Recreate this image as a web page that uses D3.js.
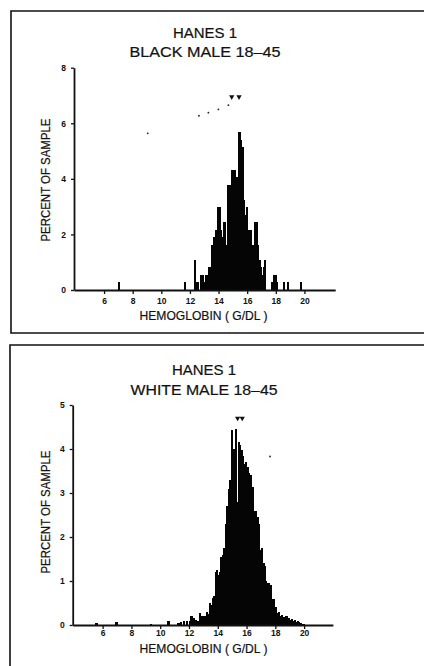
<!DOCTYPE html>
<html>
<head>
<meta charset="utf-8">
<script src="https://cdn.jsdelivr.net/npm/d3@7"></script>
<style>
  html, body { margin: 0; padding: 0; background: #fff; }
  svg { display: block; }
  text { font-family: "Liberation Sans", Arial, sans-serif; fill: #111; }
  .heading { stroke: #111; stroke-width: 0.2px; }
</style>
</head>
<body>
<svg id="chart" width="424" height="666"></svg>
<script>
// Hemoglobin distributions, 0.1 g/dL bins, percent of sample
const binWidth = 0.1;

const blackBins = [7.0, 11.6, 12.3, 12.4, 12.5, 12.7, 12.8, 12.9, 13.0, 13.1, 13.2, 13.3, 13.4,
  13.5, 13.6, 13.7, 13.8, 13.9, 14.0, 14.1, 14.2, 14.3, 14.4, 14.5, 14.6, 14.7, 14.8, 14.9,
  15.0, 15.1, 15.2, 15.3, 15.4, 15.5, 15.6, 15.7, 15.8, 15.9, 16.0, 16.1, 16.2, 16.3, 16.4,
  16.5, 16.6, 16.7, 16.8, 16.9, 17.0, 17.1, 17.2, 17.7, 17.8, 17.9, 18.0, 18.5, 18.8, 19.7];
const blackPct = [0.27, 0.27, 1.08, 0.27, 0.27, 0.54, 0.54, 0.27, 0.27, 0.54, 0.54, 0.81, 0.81,
  1.62, 1.89, 1.89, 2.16, 2.97, 2.97, 2.16, 1.89, 2.43, 2.43, 1.62, 3.78, 3.78, 3.24, 4.32,
  4.32, 4.32, 4.05, 4.05, 5.67, 5.40, 5.13, 3.24, 2.70, 2.97, 1.89, 2.16, 2.16, 1.62, 1.35,
  2.43, 2.43, 1.62, 1.08, 0.81, 0.54, 0.81, 1.08, 0.27, 0.54, 0.54, 0.27, 0.27, 0.27, 0.27];

const whiteBins = [5.5, 6.9, 9.3, 10.5, 11.2, 11.4, 11.6, 11.8, 12.0, 12.1, 12.2, 12.3, 12.4,
  12.5, 12.6, 12.7, 12.8, 12.9, 13.0, 13.1, 13.2, 13.3, 13.4, 13.5, 13.6, 13.7, 13.8, 13.9,
  14.0, 14.1, 14.2, 14.3, 14.4, 14.5, 14.6, 14.7, 14.8, 14.9, 15.0, 15.1, 15.2, 15.3, 15.4,
  15.5, 15.6, 15.7, 15.8, 15.9, 16.0, 16.1, 16.2, 16.3, 16.4, 16.5, 16.6, 16.7, 16.8, 16.9,
  17.0, 17.1, 17.2, 17.3, 17.4, 17.5, 17.6, 17.7, 17.8, 17.9, 18.0, 18.1, 18.2, 18.3, 18.4,
  18.5, 18.6, 18.7, 18.8, 18.9, 19.0, 19.1, 19.2, 19.3, 19.4, 19.5, 19.6, 19.7, 19.9];
const whitePct = [0.04, 0.06, 0.03, 0.10, 0.05, 0.06, 0.08, 0.10, 0.08, 0.20, 0.12, 0.15, 0.12,
  0.06, 0.10, 0.27, 0.20, 0.06, 0.20, 0.15, 0.30, 0.25, 0.50, 0.45, 0.62, 0.66, 1.20, 1.25,
  1.14, 1.20, 1.55, 1.60, 1.74, 2.30, 2.70, 3.10, 3.30, 4.43, 3.40, 4.00, 4.45, 2.80, 4.17,
  4.09, 3.98, 3.83, 3.67, 3.70, 3.60, 3.45, 3.40, 3.10, 3.14, 2.60, 2.58, 2.46, 2.30, 1.70,
  1.75, 1.40, 1.35, 1.00, 0.95, 0.96, 0.90, 0.57, 0.60, 0.42, 0.40, 0.27, 0.30, 0.20, 0.22,
  0.19, 0.15, 0.20, 0.12, 0.15, 0.11, 0.13, 0.08, 0.11, 0.06, 0.10, 0.06, 0.05, 0.03];

// Plotted markers above each histogram: [hemoglobin, percent]
const blackTriangles = [[14.92, 6.95], [15.43, 6.95]];
const blackDots = [[9.05, 5.64], [12.63, 6.27], [13.29, 6.38], [13.99, 6.5], [14.69, 6.65]];
const whiteTriangles = [[15.38, 4.7], [15.7, 4.7]];
const whiteDots = [[17.63, 3.83]];

const xTicks = [6, 8, 10, 12, 14, 16, 18, 20];
const blackYTicks = [0, 2, 4, 6, 8];
const whiteYTicks = [0, 1, 2, 3, 4, 5];

const titleTop = "HANES 1";
const blackTitle = "BLACK MALE 18–45";
const whiteTitle = "WHITE MALE 18–45";
const yTitle = "PERCENT OF SAMPLE";
const xTitle = "HEMOGLOBIN ( G/DL )";

const svg = d3.select("#chart");

// panel frames (open to the right/bottom edge of the page)
svg.append("path")
  .attr("d", "M424,11 H11 V333 H424")
  .attr("fill", "none").attr("stroke", "#111").attr("stroke-width", 1.6);
svg.append("path")
  .attr("d", "M424,345 H10 V666")
  .attr("fill", "none").attr("stroke", "#111").attr("stroke-width", 1.6);

function panel(cfg) {
  const g = svg.append("g");
  const x = d3.scaleLinear().domain(cfg.xDomain).range(cfg.xRange);
  const y = d3.scaleLinear().domain([0, cfg.yMax]).range(cfg.yRange);

  const data = cfg.bins.map((b, i) => ({ b, v: cfg.pct[i] }));

  // histogram bars (slightly widened so adjacent bins merge into a solid mass)
  g.append("g").attr("shape-rendering", "crispEdges")
    .selectAll("rect").data(data).join("rect")
    .attr("x", d => x(d.b) - 0.2)
    .attr("width", d => x(d.b + binWidth) - x(d.b) + 0.9)
    .attr("y", d => y(d.v))
    .attr("height", d => y(0) - y(d.v))
    .attr("fill", "#050505");

  // x axis
  const xAxis = d3.axisBottom(x).tickValues(xTicks).tickSize(4).tickSizeOuter(0)
    .tickFormat(d3.format("d"));
  const gx = g.append("g").attr("transform", `translate(0,${y(0)})`).call(xAxis);
  gx.select(".domain").attr("stroke", "#111").attr("stroke-width", 1.8);
  gx.selectAll(".tick line").attr("stroke", "#111").attr("stroke-width", 1.3);
  gx.selectAll(".tick text")
    .attr("y", cfg.xLabelOffset).attr("dy", "0.35em")
    .style("font-size", "8.5px").style("font-weight", "bold").attr("fill", "#111");

  // y axis
  const yAxis = d3.axisLeft(y).tickValues(cfg.yTicks).tickSize(3).tickSizeOuter(0)
    .tickFormat(d3.format("d"));
  const gy = g.append("g").attr("transform", `translate(${cfg.xRange[0]},0)`).call(yAxis);
  gy.select(".domain").attr("stroke", "#111").attr("stroke-width", 1.8);
  gy.selectAll(".tick line").attr("stroke", "#111").attr("stroke-width", 1.3);
  gy.selectAll(".tick text").attr("x", -8)
    .style("font-size", "8.5px").style("font-weight", "bold").attr("fill", "#111");

  // markers
  const tri = d3.symbol().type(d3.symbolTriangle).size(12);
  g.append("g").selectAll("path").data(cfg.triangles).join("path")
    .attr("d", tri)
    .attr("transform", d => `translate(${x(d[0])},${y(d[1])}) rotate(180)`)
    .attr("fill", "#111");
  g.append("g").selectAll("circle").data(cfg.dots).join("circle")
    .attr("cx", d => x(d[0])).attr("cy", d => y(d[1])).attr("r", 0.9)
    .attr("fill", "#222");

  // titles
  g.append("text").attr("class", "heading").attr("x", cfg.titleX).attr("y", cfg.titleY1)
    .attr("text-anchor", "middle").attr("dy", "0.36em")
    .attr("textLength", 64).attr("lengthAdjust", "spacingAndGlyphs")
    .style("font-size", "14px").text(titleTop);
  g.append("text").attr("class", "heading").attr("x", cfg.titleX).attr("y", cfg.titleY2)
    .attr("text-anchor", "middle").attr("dy", "0.36em")
    .attr("textLength", cfg.title2Len).attr("lengthAdjust", "spacingAndGlyphs")
    .style("font-size", "14px").text(cfg.title);

  g.append("text").attr("class", "heading")
    .attr("transform", `translate(45,${cfg.yTitleY}) rotate(-90)`)
    .attr("text-anchor", "middle").attr("dy", "0.36em")
    .attr("textLength", 123).attr("lengthAdjust", "spacingAndGlyphs")
    .style("font-size", "12.5px").text(yTitle);

  g.append("text").attr("class", "heading").attr("x", 203.5).attr("y", cfg.xTitleY)
    .attr("text-anchor", "middle").attr("dy", "0.36em")
    .attr("textLength", 128).attr("lengthAdjust", "spacingAndGlyphs")
    .style("font-size", "12.5px").text(xTitle);
}

panel({
  bins: blackBins, pct: blackPct, yMax: 8, yTicks: blackYTicks,
  xDomain: [3.9, 22.15], xRange: [74, 335.2], yRange: [290, 67.7],
  triangles: blackTriangles, dots: blackDots,
  title: blackTitle, titleX: 205, titleY1: 33, titleY2: 52, title2Len: 151,
  yTitleY: 180, xTitleY: 315, xLabelOffset: 11.5
});

panel({
  bins: whiteBins, pct: whitePct, yMax: 5, yTicks: whiteYTicks,
  xDomain: [3.92, 22], xRange: [72.7, 332.9], yRange: [625, 405],
  triangles: whiteTriangles, dots: whiteDots,
  title: whiteTitle, titleX: 204, titleY1: 370, titleY2: 390, title2Len: 147,
  yTitleY: 512, xTitleY: 648, xLabelOffset: 8.5
});
</script>
</body>
</html>
